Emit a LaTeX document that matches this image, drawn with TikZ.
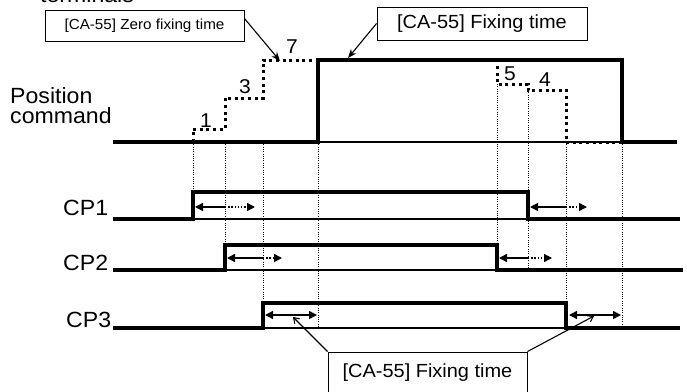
\documentclass[tikz,border=0pt]{standalone}
\usepackage{fontspec}
\setmainfont{Liberation Sans}[FakeStretch=1.05]
\usetikzlibrary{arrows.meta}
\tikzset{fat/.tip={Triangle[length=8pt,width=8pt]}}

\begin{document}
\begin{tikzpicture}[x=1pt,y=-1pt,line join=miter,
    sig/.style={line width=3.6pt},
    thinbase/.style={line width=1.3pt},
    stepdot/.style={line width=3pt,dash pattern=on 3pt off 3.6pt},
    guide/.style={line width=1pt,dash pattern=on 1pt off 1.3pt},
    hold/.style={line width=1.4pt},
    holddot/.style={line width=1.4pt,dash pattern=on 1.4pt off 1.8pt},
    leader/.style={line width=1.1pt},
    box/.style={draw,line width=0.9pt,inner sep=0pt},
    lbl/.style={font=\fontsize{22}{20}\selectfont,inner sep=0pt},
    num/.style={font=\fontsize{20}{20}\selectfont,inner sep=0pt}]
    \useasboundingbox (0,0) rectangle (687,391);
    \pgfmathsetmacro\ta{193}
    \pgfmathsetmacro\tb{225}
    \pgfmathsetmacro\tc{263}
    \pgfmathsetmacro\td{318}
    \pgfmathsetmacro\te{497}
    \pgfmathsetmacro\tf{528}
    \pgfmathsetmacro\tg{566}
    \pgfmathsetmacro\th{622}
    % labels
    \node[lbl,anchor=base west] (term) at (40,2.5) {terminals};
    \node[lbl,anchor=base west] (pos) at (10,103) {Position};
    \node[lbl,anchor=base west] (cmd) at (10,123) {command};
    \node[lbl,anchor=base west] (cp1) at (63,215) {CP1};
    \node[lbl,anchor=base west] (cp2) at (63,270) {CP2};
    \node[lbl,anchor=base west] (cp3) at (66,327) {CP3};
    % guide lines
    \foreach \gx/\gtop/\gbot in {\ta/142/192, \tb/142/245, \tc/142/303, \td/142/328, \te/84/245, \tf/90/270, \tg/142/303, \th/142/328}
        \draw[guide] (\gx,\gtop) -- (\gx,\gbot);
    % position command
    \draw[thinbase] (\td,142) -- (\th,142);
    \draw[sig] (113,142) -- (\td,142) -- (\td,60) -- (\th,60) -- (\th,142) -- (677,142);
    \draw[stepdot] (\ta,142) -- (\ta,129) -- (\tb,129) -- (\tb,98) -- (\tc,98) -- (\tc,60) -- (\td,60);
    \draw[stepdot] (\te,66) -- (\te,84) -- (\tf,84) -- (\tf,90) -- (\tg,90) -- (\tg,142) -- (\th,142);
    \node[num,anchor=base] (n1) at (206,127) {1};
    \node[num,anchor=base] (n3) at (245,93) {3};
    \node[num,anchor=base] (n7) at (292,53) {7};
    \node[num,anchor=base] (n5) at (510,80) {5};
    \node[num,anchor=base] (n4) at (545,86) {4};
    % CP signals
    \foreach \lo/\hi/\up/\dn/\xe in {219/192/\ta/\tf/680, 270/245/\tb/\te/683, 328/303/\tc/\tg/680} {
        \draw[thinbase] (\up,\lo) -- (\dn,\lo);
        \draw[sig] (113,\lo) -- (\up,\lo) -- (\up,\hi) -- (\dn,\hi) -- (\dn,\lo) -- (\xe,\lo);
    }
    % hold times
    \foreach \xa/\xb/\xc/\yy in {195/\tb/255/207, 530/\tg/587/207, 227/\tc/282/258, 499/\tf/552/258} {
        \draw[hold,{fat}-] (\xa,\yy) -- (\xb,\yy);
        \draw[holddot,-{fat}] (\xb,\yy) -- (\xc,\yy);
    }
    \draw[hold,{fat}-{fat}] (265,315) -- (317,315);
    \draw[hold,{fat}-{fat}] (569,315) -- (621,315);
    % parameter boxes
    \node[box,minimum width=199pt,minimum height=31pt,font=\fontsize{14.5}{16}\selectfont] (zerobox) at (144.5,25.5) {[CA-55] Zero fixing time};
    \node[box,minimum width=210pt,minimum height=33pt,font=\fontsize{19}{21}\selectfont] (fixbox) at (482,23.5) {[CA-55] Fixing time};
    \node[box,minimum width=199pt,minimum height=42pt,font=\fontsize{19}{21}\selectfont] (holdbox) at (427.5,373) {[CA-55] Fixing time};
    \coordinate (zerotip) at (280,61);
    \coordinate (fixtip) at (348,58);
    \coordinate (holdL) at (293,317);
    \coordinate (holdR) at (594,316);
    \draw[leader,-{Stealth[length=9pt,width=7pt]}] ([yshift=7pt]zerobox.east) -- (zerotip);
    \draw[leader,-{Stealth[length=9pt,width=7pt]}] (fixbox.west) -- (fixtip);
    \draw[leader,-{Straight Barb[length=5pt,width=7pt]}] (holdbox.north west) -- (holdL);
    \draw[leader,-{Straight Barb[length=5pt,width=7pt]}] (holdbox.north east) -- (holdR);
\end{tikzpicture}
\end{document}
